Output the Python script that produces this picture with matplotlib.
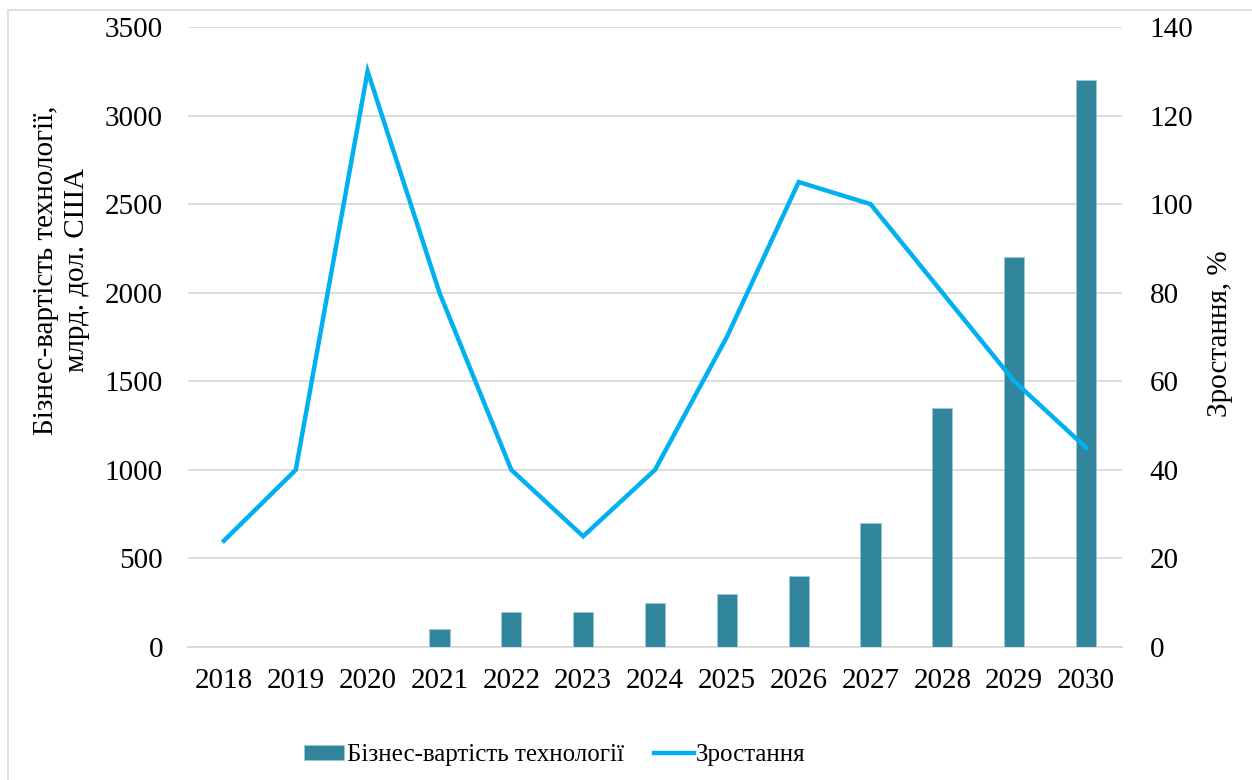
import matplotlib
matplotlib.use("Agg")
import matplotlib.pyplot as plt
from matplotlib.patches import Rectangle
import numpy as np

plt.rcParams['font.family'] = ['Liberation Serif', 'DejaVu Serif']

years = ['2018', '2019', '2020', '2021', '2022', '2023', '2024',
         '2025', '2026', '2027', '2028', '2029', '2030']
value = [0, 0, 0, 100, 200, 200, 250, 300, 400, 700, 1350, 2200, 3200]
growth = [24, 40, 130, 80, 40, 25, 40, 70, 105, 100, 80, 60, 45]

BAR_COLOR = '#31859C'
LINE_COLOR = '#00B0F0'
GRID_COLOR = '#D9D9D9'

W, H = 1252, 780
fig = plt.figure(figsize=(W / 100, H / 100), dpi=100)
ax = fig.add_axes([188 / W, 1 - 647 / H, (1122 - 188) / W, (647 - 27) / H])
ax2 = ax.twinx()

x = np.arange(len(years))
ax.bar(x, value, width=0.28, color=BAR_COLOR, edgecolor='#9CC8D3', linewidth=0.6,
       label='Бізнес-вартість технології', zorder=3)
ax2.plot(x, growth, color=LINE_COLOR, linewidth=3.2, label='Зростання',
         solid_joinstyle='miter', zorder=4)

ax.set_xlim(-0.5, len(years) - 0.5)
ax.set_ylim(0, 3500)
ax.set_yticks(np.arange(0, 3501, 500))
ax2.set_ylim(0, 140)
ax2.set_yticks(np.arange(0, 141, 20))
ax.set_xticks(x)
ax.set_xticklabels(years)

ax.grid(axis='y', color=GRID_COLOR, linewidth=1.3, zorder=0)
ax.set_axisbelow(True)
for a in (ax, ax2):
    for s in a.spines.values():
        s.set_visible(False)
    a.tick_params(length=0, labelsize=21)
ax.spines['bottom'].set_visible(True)
ax.spines['bottom'].set_color(GRID_COLOR)
ax.spines['bottom'].set_linewidth(1.3)
ax.tick_params(axis='y', pad=18)
ax.tick_params(axis='x', pad=15)
ax2.tick_params(axis='y', pad=20)

# axis titles
fig.text(61.5 / W, 1 - 270 / H, 'Бізнес-вартість технології,\nмлрд. дол. США',
         rotation=90, ha='center', va='center', multialignment='center',
         fontsize=21, linespacing=1.2)
fig.text(1220 / W, 1 - 333.5 / H, 'Зростання, %', rotation=90,
         ha='center', va='center', fontsize=21)

h1, l1 = ax.get_legend_handles_labels()
h2, l2 = ax2.get_legend_handles_labels()
fig.legend(h1 + h2, l1 + l2, loc='center', bbox_to_anchor=(555 / W, 1 - 755 / H),
           ncol=2, frameon=False, fontsize=18, handlelength=1.6,
           handleheight=0.55, columnspacing=1.2, handletextpad=0.1)

fig.patches.append(Rectangle((8 / W, -0.05), 1.1, 1 - 10 / H + 0.05,
                             transform=fig.transFigure, fill=False,
                             edgecolor='#D9D9D9', linewidth=1.2))

fig.savefig('out.png', dpi=100)
